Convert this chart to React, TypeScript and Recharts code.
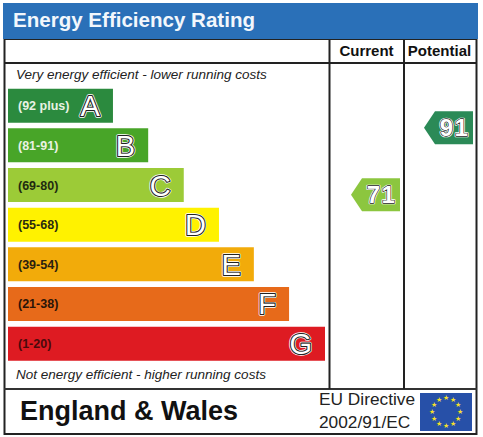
import React from 'react';
import { BarChart, Bar, Cell, LabelList, XAxis, YAxis, ScatterChart, Scatter } from 'recharts';

const FONT = '"Liberation Sans", Arial, sans-serif';

const letters = ['A', 'B', 'C', 'D', 'E', 'F', 'G'];
const ranges = ['(92 plus)', '(81-91)', '(69-80)', '(55-68)', '(39-54)', '(21-38)', '(1-20)'];
const bandLengths = [2.98, 3.98, 4.99, 5.99, 6.98, 7.98, 9];
const bandColors = ['#2b8a3e', '#48a528', '#9ccb37', '#fff200', '#f2ab0a', '#e76a1a', '#de1b22'];
const rangeColors = ['#e8f2e4', '#e8f2e4', '#1f2a10', '#2a2a10', '#2a2010', '#2a1508', '#4a0a0c'];

const columns = ['Current', 'Potential'];
const scores = [71, 91];
const arrowColors = ['#8cc63f', '#2b8a57'];

const bandData = letters.map((letter, i) => ({ letter, range: ranges[i], length: bandLengths[i] }));
const arrowData = columns.map((column, i) => ({ column, score: scores[i], color: arrowColors[i] }));

const RangeLabel = (props: any) => {
  const { x, y, height, value, index } = props;
  return (
    <text x={x + 10} y={y + height / 2 + 4.5} fontFamily={FONT} fontSize={12.5} fontWeight={700} fill={rangeColors[index]}>
      {value}
    </text>
  );
};

const OutlinedText = ({ x, y, size, anchor, children, spacing, line = 2.2 }: any) => (
  <g fontFamily={FONT} fontSize={size} textAnchor={anchor} letterSpacing={spacing}>
    <text x={x} y={y} fill="#fff" stroke="#fff" strokeWidth={line + 1.4} strokeLinejoin="round">{children}</text>
    <text x={x} y={y} fill="#fff" stroke="#222" strokeWidth={line} strokeLinejoin="round">{children}</text>
    <text x={x} y={y} fill="#fff">{children}</text>
  </g>
);

const LetterLabel = (props: any) => {
  const { x, y, width, height, value } = props;
  return (
    <OutlinedText x={x + width - 13} y={y + height / 2 + 10.5} size={29} anchor="end">
      {value}
    </OutlinedText>
  );
};

const ScoreArrow = (props: any) => {
  const { cx, cy, payload } = props;
  const left = cx - 15.5;
  const right = cx + 33.5;
  const notch = left + 11;
  const points = `${left},${cy} ${notch},${cy - 16.5} ${right},${cy - 16.5} ${right},${cy + 16.5} ${notch},${cy + 16.5}`;
  return (
    <g>
      <polygon points={points} fill={payload.color} />
      <OutlinedText x={cx + 15} y={cy + 8.5} size={24} anchor="middle" spacing={1.5} line={1.3}>
        <tspan fontWeight={700}>{payload.score}</tspan>
      </OutlinedText>
    </g>
  );
};

const Frame = () => {
  const stars = Array.from({ length: 12 }, (_, i) => {
    const a = (i * Math.PI) / 6;
    return { x: 446 + 14 * Math.sin(a), y: 412 - 14 * Math.cos(a) };
  });
  return (
    <svg width={483} height={437} style={{ position: 'absolute', left: 0, top: 0 }} fontFamily={FONT}>
      <rect width={483} height={437} fill="#fff" />
      <rect x={4.5} y={39} width={472} height={395} fill="none" stroke="#222" strokeWidth={2} />
      <line x1={4} x2={477} y1={63} y2={63} stroke="#222" strokeWidth={2} />
      <line x1={4} x2={477} y1={389} y2={389} stroke="#333" strokeWidth={2} />
      <line x1={329.5} x2={329.5} y1={39} y2={389} stroke="#222" strokeWidth={2} />
      <line x1={404} x2={404} y1={39} y2={389} stroke="#222" strokeWidth={2} />
      <rect x={3} y={3} width={475} height={36} fill="#2a70b8" />
      <text x={13} y={27} fontSize={21} fontWeight={700} fill="#f2f7fc" textLength={242} lengthAdjust="spacingAndGlyphs">Energy Efficiency Rating</text>
      <text x={16} y={79} fontSize={13.5} fontStyle="italic" fill="#222">Very energy efficient - lower running costs</text>
      <text x={16} y={379} fontSize={13.5} fontStyle="italic" fill="#222">Not energy efficient - higher running costs</text>
      <text x={20} y={420} fontSize={27} fontWeight={700} fill="#111">England &amp; Wales</text>
      <text x={319} y={405} fontSize={17.3} fill="#222">EU Directive</text>
      <text x={319} y={428} fontSize={17.3} fill="#222">2002/91/EC</text>
      <rect x={420} y={393} width={52} height={38} fill="#2750a8" />
      {stars.map((s, i) => (
        <text key={i} x={s.x} y={s.y + 2} fontSize={6.5} textAnchor="middle" fill="#f5e02a">★</text>
      ))}
    </svg>
  );
};

export default function App() {
  return (
    <div style={{ position: 'fixed', left: 0, top: 0, width: 483, height: 437, background: '#fff', overflow: 'hidden' }}>
      <Frame />
      <div style={{ position: 'absolute', left: 0, top: 0 }}>
        <BarChart
          width={483}
          height={437}
          layout="vertical"
          data={bandData}
          barSize={34}
          margin={{ top: 85.7, right: 158, bottom: 73.7, left: 8 }}
        >
          <XAxis type="number" domain={[0, 9]} hide />
          <YAxis type="category" dataKey="letter" hide />
          <Bar dataKey="length" isAnimationActive={false}>
            {bandData.map((d, i) => (
              <Cell key={d.letter} fill={bandColors[i]} />
            ))}
            <LabelList dataKey="range" content={RangeLabel} />
            <LabelList dataKey="letter" content={LetterLabel} />
          </Bar>
        </BarChart>
      </div>
      <div style={{ position: 'absolute', left: 0, top: 0 }}>
        <ScatterChart width={483} height={437} margin={{ top: 39, right: 7, bottom: 4.5, left: 330 }}>
          <XAxis
            xAxisId={0}
            type="category"
            scale="band"
            dataKey="column"
            orientation="top"
            height={25}
            axisLine={false}
            tickLine={false}
            interval={0}
            tickMargin={2}
            tick={{ fontFamily: FONT, fontSize: 15, fontWeight: 700, fill: '#111' }}
          />
          <YAxis yAxisId={0} type="number" dataKey="score" domain={[0, 110]} hide />
          <Scatter data={arrowData} isAnimationActive={false} shape={ScoreArrow} />
        </ScatterChart>
      </div>
    </div>
  );
}
